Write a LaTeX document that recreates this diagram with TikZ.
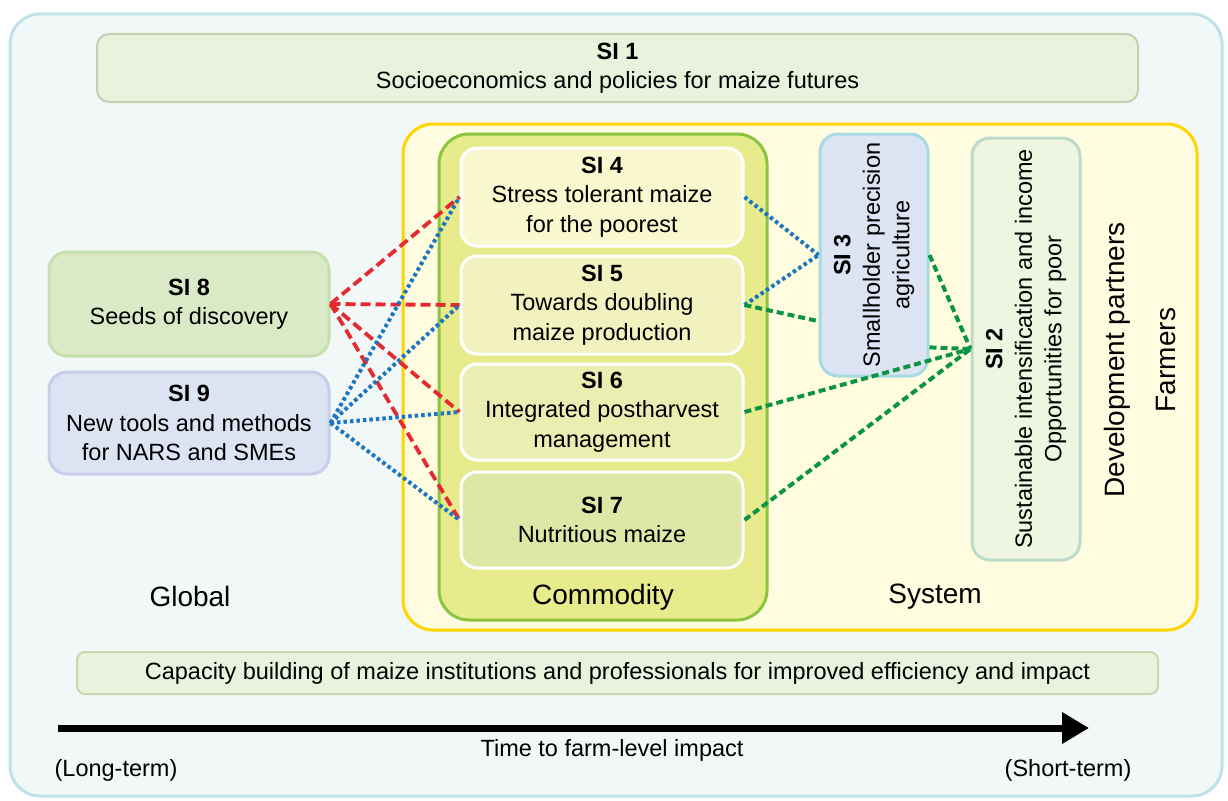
\documentclass[tikz,border=0pt]{standalone}
\usepackage{fontspec}
\setmainfont{Liberation Sans}
\usetikzlibrary{arrows.meta,calc}
\definecolor{outerF}{HTML}{F2F8F8}
\definecolor{outerB}{HTML}{BEE2E7}
\definecolor{siOneF}{HTML}{E9F2DD}
\definecolor{siOneB}{HTML}{C6CFB0}
\definecolor{sysF}{HTML}{FFFCE0}
\definecolor{sysB}{HTML}{FFD500}
\definecolor{comF}{HTML}{E8EB8C}
\definecolor{comB}{HTML}{8BC53F}
\definecolor{fourF}{HTML}{FAF8CE}
\definecolor{fiveF}{HTML}{F2F2C0}
\definecolor{sixF}{HTML}{EAEEB0}
\definecolor{sevenF}{HTML}{DFE7A6}
\definecolor{threeF}{HTML}{DCE4F4}
\definecolor{threeB}{HTML}{A8DAE3}
\definecolor{twoF}{HTML}{EEF6E2}
\definecolor{twoB}{HTML}{BDDACB}
\definecolor{eightF}{HTML}{DAEAC6}
\definecolor{eightB}{HTML}{C5DFAD}
\definecolor{nineF}{HTML}{DCE3F3}
\definecolor{nineB}{HTML}{C8CEE9}
\definecolor{capF}{HTML}{E9F2DC}
\definecolor{capB}{HTML}{C8D6B0}
\definecolor{lnRed}{HTML}{E52A2F}
\definecolor{lnBlue}{HTML}{1B76C0}
\definecolor{lnGreen}{HTML}{0B9444}
\tikzset{
  txt/.style={font=\fontsize{23.5}{29.5}\selectfont, align=center, inner sep=0pt},
  bigtxt/.style={font=\fontsize{28}{34}\selectfont, inner sep=0pt},
  box/.style={draw, rounded corners=#1, inner sep=0pt, anchor=center,
    font=\fontsize{23.5}{29.5}\selectfont, align=center},
  box/.default=16pt,
  redln/.style={draw=lnRed, line width=3.8pt, dash pattern=on 10pt off 5pt},
  blueln/.style={draw=lnBlue, line width=4pt, dash pattern=on 3.5pt off 3pt},
  greenln/.style={draw=lnGreen, line width=4pt, dash pattern=on 7pt off 4pt},
}
\begin{document}
\begin{tikzpicture}[x=1pt,y=-1pt]
\useasboundingbox (0,0) rectangle (1228,800);
% outer frame
\node[box=30pt, fill=outerF, draw=outerB, line width=3pt,
  minimum width=1212pt, minimum height=782pt] (outer) at (616,405) {};
% SI1
\node[box=12pt, fill=siOneF, draw=siOneB, line width=2pt,
  minimum width=1041pt, minimum height=68pt] (si1) at (617.5,68)
  {\textbf{SI 1}\\Socioeconomics and policies for maize futures};
% system area
\node[box=30pt, fill=sysF, draw=sysB, line width=3pt,
  minimum width=794pt, minimum height=506pt] (sys) at (800,377) {};
% commodity area
\node[box=30pt, fill=comF, draw=comB, line width=3pt,
  minimum width=328pt, minimum height=486pt] (com) at (603,377) {};
% SI4..SI7
\node[box=16pt, fill=fourF, draw=white, line width=3pt,
  minimum width=282pt, minimum height=98pt] (si4) at (602,197)
  {\textbf{SI 4}\\Stress tolerant maize\\for the poorest};
\node[box=16pt, fill=fiveF, draw=white, line width=3pt,
  minimum width=282pt, minimum height=98pt] (si5) at (602,305)
  {\textbf{SI 5}\\Towards doubling\\maize production};
\node[box=16pt, fill=sixF, draw=white, line width=3pt,
  minimum width=282pt, minimum height=96pt] (si6) at (602,412)
  {\textbf{SI 6}\\Integrated postharvest\\management};
\node[box=16pt, fill=sevenF, draw=white, line width=3pt,
  minimum width=282pt, minimum height=96pt] (si7) at (602,520)
  {\textbf{SI 7}\\Nutritious maize};
% SI3 and SI2 (rotated text)
\node[box=18pt, fill=threeF, draw=threeB, line width=3pt,
  minimum width=108pt, minimum height=242pt] (si3) at (874,255) {};
\node[txt, rotate=90] (si3t) at (si3.center)
  {\textbf{SI 3}\\Smallholder precision\\agriculture};
\node[box=18pt, fill=twoF, draw=twoB, line width=3pt,
  minimum width=108pt, minimum height=422pt] (si2) at (1026,349) {};
\node[txt, rotate=90] (si2t) at (si2.center)
  {\textbf{SI 2}\\Sustainable intensification and income\\Opportunities for poor};
% Development partners / Farmers
\node[bigtxt, rotate=90] (dev) at (1117,360) {Development partners};
\node[bigtxt, rotate=90] (farm) at (1166,360) {Farmers};
% SI8, SI9
\node[box=18pt, fill=eightF, draw=eightB, line width=3pt,
  minimum width=280pt, minimum height=104pt] (si8) at (189,304)
  {\textbf{SI 8}\\Seeds of discovery};
\node[box=18pt, fill=nineF, draw=nineB, line width=3pt,
  minimum width=280pt, minimum height=102pt] (si9) at (189,423)
  {\textbf{SI 9}\\New tools and methods\\for NARS and SMEs};
% level labels
\node[bigtxt] (glob) at (190,596) {Global};
\node[bigtxt] (comm) at (603,597) {Commodity};
\node[bigtxt] (syst) at (935,597) {System};
% capacity building
\node[box=8pt, fill=capF, draw=capB, line width=2pt,
  minimum width=1081pt, minimum height=42pt] (cap) at (617.5,673)
  {Capacity building of maize institutions and professionals for improved efficiency and impact};
% connectors: SI8 (red dashed)
\draw[redln] (si8.east) -- (si4.west);
\draw[redln] (si8.east) -- (si5.west);
\draw[redln] (si8.east) -- (si6.west);
\draw[redln] (si8.east) -- (si7.west);
% SI9 (blue dotted)
\draw[blueln] (si9.east) -- (si4.west);
\draw[blueln] (si9.east) -- (si5.west);
\draw[blueln] (si9.east) -- (si6.west);
\draw[blueln] (si9.east) -- (si7.west);
% to SI3 (blue dotted)
\draw[blueln] (si4.east) -- (si3.west);
\draw[blueln] (si5.east) -- (si3.west);
% green dashed
\draw[greenln] (si5.east) -- (si3.230);
\draw[greenln] (si3.east) -- (si2.west);
\draw[greenln] (si3.-59) -- (si2.west);
\draw[greenln] (si6.east) -- (si2.west);
\draw[greenln] (si7.east) -- (si2.west);
% time arrow
\coordinate (tA) at (58,728);
\coordinate (tB) at (1089,728);
\draw[line width=7pt, -{Triangle[length=27pt,width=30pt]}] (tA) -- (tB);
\node[txt] (time) at (612,750) {Time to farm-level impact};
\node[txt] (long) at (116,770) {(Long-term)};
\node[txt] (short) at (1068,770) {(Short-term)};
\end{tikzpicture}
\end{document}
